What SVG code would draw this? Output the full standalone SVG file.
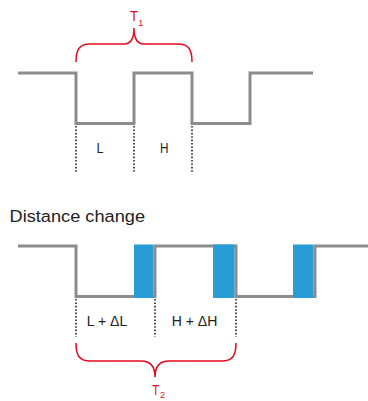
<svg xmlns="http://www.w3.org/2000/svg" width="368" height="401" viewBox="0 0 368 401">
<style>
.wave{fill:none;stroke:#8c8c8c;stroke-width:3;stroke-linejoin:miter}
.dot{fill:none;stroke:#222;stroke-width:1.6;stroke-dasharray:1.6 1.8}
.brace{fill:none;stroke:#e30a1e;stroke-width:1.5}
.lbl{font-family:"Liberation Sans",Arial,sans-serif;fill:#222}
.red{font-family:"Liberation Sans",Arial,sans-serif;fill:#e30a1e}
.blue{fill:#279cd5}
</style>
<rect width="368" height="401" fill="#fff"/>
<g id="top-wave">
<path class="wave" d="M18,73 H76 V123.5 H134 V73 H192 V123.5 H250 V73 H313"/>
</g>
<g id="top-brace">
<path class="brace" d="M76,62 C76,50 79,44 90,44 L124,44 C131,44 134,38 134,28 C134,38 137,44 144,44 L178,44 C189,44 192,50 192,62"/>
<text class="red" x="130" y="21" font-size="15" textLength="8" lengthAdjust="spacingAndGlyphs">T</text>
<text class="red" x="138.3" y="25.5" font-size="9">1</text>
</g>
<g id="connectors">
<line class="dot" x1="76" y1="126" x2="76" y2="172"/>
<line class="dot" x1="134" y1="126" x2="134" y2="172"/>
<line class="dot" x1="192" y1="126" x2="192" y2="172"/>
<line class="dot" x1="76" y1="299" x2="76" y2="337"/>
<line class="dot" x1="155" y1="299" x2="155" y2="337"/>
<line class="dot" x1="236" y1="299" x2="236" y2="337"/>
</g>
<g id="top-labels">
<text class="lbl" x="96.5" y="153" font-size="15" textLength="7" lengthAdjust="spacingAndGlyphs">L</text>
<text class="lbl" x="160" y="153" font-size="15" textLength="8.5" lengthAdjust="spacingAndGlyphs">H</text>
</g>
<g id="title">
<text class="lbl" x="9.5" y="221.7" font-size="16.8" textLength="135.5" lengthAdjust="spacingAndGlyphs">Distance change</text>
</g>
<g id="bottom-wave">
<path class="wave" d="M18,246 H76 V296.5 H155 V246 H236 V296.5 H315 V246 H368"/>
<rect class="blue" x="134" y="244.5" width="19.5" height="53.5"/>
<rect class="blue" x="213" y="244.5" width="21.5" height="53.5"/>
<rect class="blue" x="293" y="244.5" width="20.5" height="53.5"/>
</g>
<g id="bottom-labels">
<text class="lbl" x="86.7" y="326" font-size="15.5" textLength="40.6" lengthAdjust="spacingAndGlyphs">L + ΔL</text>
<text class="lbl" x="171.7" y="326" font-size="15.5" textLength="45.6" lengthAdjust="spacingAndGlyphs">H + ΔH</text>
</g>
<g id="bottom-brace">
<path class="brace" d="M76,343 C76,355 79,361 90,361 L141,361 C150,361 155,366 155,377 C155,366 160,361 169,361 L222,361 C233,361 236,355 236,343"/>
<text class="red" x="152.3" y="394.5" font-size="14.5" textLength="7" lengthAdjust="spacingAndGlyphs">T</text>
<text class="red" x="160" y="398" font-size="9">2</text>
</g>
</svg>
